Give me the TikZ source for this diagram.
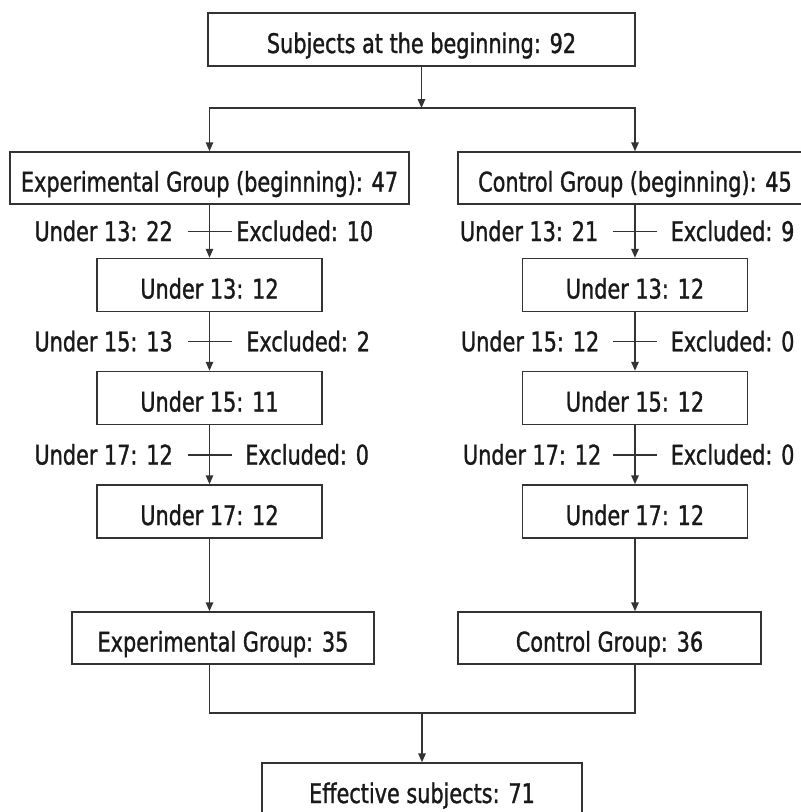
\documentclass[tikz,border=0pt]{standalone}
\usepackage{fontspec}
\setmainfont{DejaVu Sans}[FakeStretch=0.77, FakeBold=1.2]
\usepackage{tikz}
\usetikzlibrary{arrows.meta}
\usetikzlibrary{calc}
\tikzset{>={Triangle[length=9pt, width=7.5pt]}}
\tikzset{
    box/.style={draw=black!80, minimum height=53pt, inner sep=0pt,
        text height=27pt, text depth=0pt, text=black!90,
        font=\fontsize{27pt}{32pt}\selectfont},
    lbl/.style={inner sep=0pt, text height=19.5pt, text depth=0pt, text=black!90,
        font=\fontsize{27pt}{32pt}\selectfont},
}

\begin{document}
\begin{tikzpicture}[x=1pt, y=-1pt, line width=1.5pt, color=black!80]
    \useasboundingbox (0, 0) rectangle (801, 812);
    % boxes
    \node[box, minimum width=427pt] (start) at (421.5, 39.5) {Subjects at the beginning: 92};
    \node[box, minimum width=399pt, minimum height=52pt] (expbeg) at (209.5, 178) {Experimental Group (beginning): 47};
    \node[box, minimum width=354pt, minimum height=52pt] (ctlbeg) at (635, 178) {Control Group (beginning): 45};
    \node[box, minimum width=225pt] (exp13) at (209.5, 285) {Under 13: 12};
    \node[box, minimum width=225pt] (ctl13) at (635, 285) {Under 13: 12};
    \node[box, minimum width=225pt] (exp15) at (209.5, 398) {Under 15: 11};
    \node[box, minimum width=225pt] (ctl15) at (635, 398) {Under 15: 12};
    \node[box, minimum width=225pt] (exp17) at (209.5, 511.5) {Under 17: 12};
    \node[box, minimum width=225pt] (ctl17) at (635, 511.5) {Under 17: 12};
    \node[box, minimum width=302pt, minimum height=52pt] (expgrp) at (223, 638) {Experimental Group: 35};
    \node[box, minimum width=303pt, minimum height=52pt] (ctlgrp) at (609.5, 638) {Control Group: 36};
    \node[box, minimum width=320pt] (eff) at (422, 789.5) {Effective subjects: 71};
    \coordinate (split) at (421.5, 108);
    \coordinate (merge) at (422, 713);

    % split into the two groups
    \draw[->](start)--(split);
    \draw[->](split)-|(expbeg.north);
    \draw[->](split)-|(ctlbeg.north);

    % columns
    \draw[->](expbeg)--(exp13);
    \draw[->](exp13)--(exp15);
    \draw[->](exp15)--(exp17);
    \draw[->](ctlbeg)--(ctl13);
    \draw[->](ctl13)--(ctl15);
    \draw[->](ctl15)--(ctl17);
    \draw[->](exp17.south)--(exp17.south |- expgrp.north);
    \draw[->](ctl17.south)--(ctl17.south |- ctlgrp.north);

    % exclusions
    \coordinate (xa) at ($(expbeg.south)!.5!(exp13.north)$);
    \coordinate (xb) at ($(exp13.south)!.5!(exp15.north)$);
    \coordinate (xc) at ($(exp15.south)!.5!(exp17.north)$);
    \coordinate (ya) at ($(ctlbeg.south)!.5!(ctl13.north)$);
    \coordinate (yb) at ($(ctl13.south)!.5!(ctl15.north)$);
    \coordinate (yc) at ($(ctl15.south)!.5!(ctl17.north)$);
    \foreach \c in {xa, xb, xc, ya, yb, yc}
        \draw(\c) +(-22, 0)--+(22, 0);
    \node[lbl, anchor=east] (ua) at ([xshift=-36pt]xa) {Under 13: 22};
    \node[lbl, anchor=west] (ea) at ([xshift=26pt]xa) {Excluded: 10};
    \node[lbl, anchor=east] (ub) at ([xshift=-36pt]xb) {Under 15: 13};
    \node[lbl, anchor=west] (eb) at ([xshift=36pt]xb) {Excluded: 2};
    \node[lbl, anchor=east] (uc) at ([xshift=-36pt]xc) {Under 17: 12};
    \node[lbl, anchor=west] (ec) at ([xshift=35pt]xc) {Excluded: 0};
    \node[lbl, anchor=east] (va) at ([xshift=-36pt]ya) {Under 13: 21};
    \node[lbl, anchor=west] (fa) at ([xshift=35pt]ya) {Excluded: 9};
    \node[lbl, anchor=east] (vb) at ([xshift=-35pt]yb) {Under 15: 12};
    \node[lbl, anchor=west] (fb) at ([xshift=35pt]yb) {Excluded: 0};
    \node[lbl, anchor=east] (vc) at ([xshift=-33pt]yc) {Under 17: 12};
    \node[lbl, anchor=west] (fc) at ([xshift=35pt]yc) {Excluded: 0};

    % merge
    \draw(expgrp.south -| exp17.south)|-(merge)-|(ctlgrp.south -| ctl17.south);
    \draw[->](merge)--(eff);
\end{tikzpicture}
\end{document}
